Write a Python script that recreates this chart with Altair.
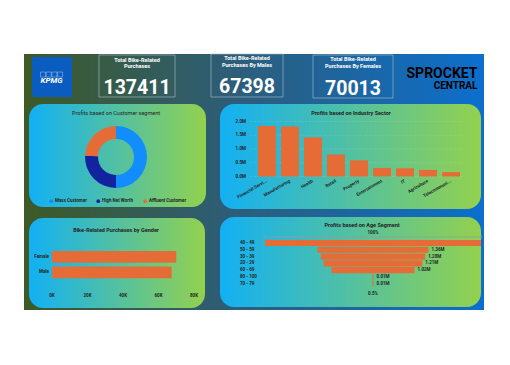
import altair as alt
import pandas as pd

# ---------------- data ----------------
kpi_title_top = ["Total Bike-Related", "Total Bike-Related", "Total Bike-Related"]
kpi_title_bottom = ["Purchases", "Purchases By Males", "Purchases By Females"]
kpi_values = ["137411", "67398", "70013"]

segments = ["Mass Customer", "High Net Worth", "Affluent Customer"]
segment_share = [50.0, 25.6, 24.4]
segment_colors = ["#118DFF", "#12239E", "#E66C37"]

industries = ["Financial Servi...", "Manufacturing", "Health", "Retail", "Property",
              "Entertainment", "IT", "Agriculture", "Telecommuni..."]
industry_profit_m = [1.84, 1.82, 1.42, 0.80, 0.59, 0.31, 0.30, 0.24, 0.16]
industry_ticks = [0, 0.5, 1.0, 1.5, 2.0]
industry_tick_labels = ["0.0M", "0.5M", "1.0M", "1.5M", "2.0M"]

genders = ["Female", "Male"]
gender_purchases = [70013, 67398]
gender_ticks = [0, 20000, 40000, 60000, 80000]
gender_tick_labels = ["0K", "20K", "40K", "60K", "80K"]

age_groups = ["40 - 49", "50 - 59", "30 - 39", "20 - 29", "60 - 69", "80 - 100", "70 - 79"]
age_profit_m = [2.65, 1.36, 1.28, 1.21, 1.02, 0.013, 0.013]
age_value_labels = ["", "1.36M", "1.28M", "1.21M", "1.02M", "0.01M", "0.01M"]
age_top_label = "100%"
age_bottom_label = "0.5%"

ORANGE = "#E66C37"
DARK = "#252423"
FONT = "Roboto"

# ---------------- layout helpers ----------------
M = 8


def px(v):
    return v - M


one = pd.DataFrame({"k": [0]})


def box(x0, x1, y0, y1, **mk):
    return alt.Chart(one).mark_rect(**mk).encode(
        x=alt.value(px(x0)), x2=alt.value(px(x1)),
        y=alt.value(px(y0)), y2=alt.value(px(y1)))


def label(txt, x, y, **mk):
    mk.setdefault("font", FONT)
    return alt.Chart(one).mark_text(**mk).encode(
        x=alt.value(px(x)), y=alt.value(px(y)), text=alt.value(txt))


def grad(stops):
    return {"gradient": "linear", "x1": 0, "x2": 1, "y1": 0, "y2": 0,
            "stops": [{"offset": o, "color": c} for o, c in stops]}


PANEL = grad([(0, "#12b0f4"), (1, "#93d14e")])

layers = []
# dashboard background
layers.append(box(24, 484, 54, 310, fill=grad([(0, "#3d5a26"), (0.45, "#2d5d78"), (1, "#0b6fce")])))
# panels
layers.append(box(29, 206, 104, 207, fill=PANEL, cornerRadius=14))
layers.append(box(220, 481, 104, 209, fill=PANEL, cornerRadius=14))
layers.append(box(29, 205, 218, 308, fill=PANEL, cornerRadius=14))
layers.append(box(220, 481, 217, 307, fill=PANEL, cornerRadius=14))

# KPMG logo
layers.append(box(32, 72, 57, 97, fill="#0b5cc0"))
for i in range(4):
    layers.append(box(40.5 + i * 5.7, 45.5 + i * 5.7, 72, 77, fillOpacity=0, stroke="#cfe0f5", strokeWidth=0.4))
layers.append(label("KPMG", 51.5, 80.5, fontSize=8, fontWeight="bold", fontStyle="italic", color="white", baseline="middle"))

# KPI cards
cards = [(99, 175, 55, 97, 137, 59.5, 66, 94.0), (211, 283, 54, 97, 247, 58, 64.5, 93.0),
         (313, 393, 55, 98, 353, 59, 66, 94.8)]
for i, (x0, x1, y0, y1, cx, t1, t2, nb) in enumerate(cards):
    layers.append(box(x0, x1, y0, y1, fillOpacity=0, stroke="#a9b9c4", strokeWidth=0.8, strokeOpacity=0.8))
    layers.append(label(kpi_title_top[i], cx, t1, fontSize=5.5, fontWeight="bold", color="white", baseline="middle"))
    layers.append(label(kpi_title_bottom[i], cx, t2, fontSize=5.5, fontWeight="bold", color="white", baseline="middle"))
    layers.append(label(kpi_values[i], cx, nb, fontSize=19.5, fontWeight="bold", color="white",
                        baseline="alphabetic"))

# Sprocket Central logo
layers.append(label("SPROCKET", 477.5, 77.5, fontSize=14, fontWeight="bold", color="black", align="right",
                    baseline="alphabetic"))
layers.append(label("CENTRAL", 477.5, 89, fontSize=10, fontWeight="bold", color="black", align="right",
                    baseline="alphabetic"))

# titles
layers.append(label("Profits based on Customer segment", 116, 113, fontSize=5.5, color=DARK, baseline="middle"))
layers.append(label("Profits based on Industry Sector", 351, 113, fontSize=5.5, fontWeight="bold", color=DARK, baseline="middle"))
layers.append(label("Bike-Related Purchases by Gender", 116, 230, fontSize=5.5, fontWeight="bold", color=DARK, baseline="middle"))
layers.append(label("Profits based on Age Segment", 362, 225, fontSize=5.5, fontWeight="bold", color=DARK, baseline="middle"))

# ---------------- donut ----------------
seg_df = pd.DataFrame({"segment": segments, "share": segment_share, "order": list(range(len(segments)))})
donut = alt.Chart(seg_df).mark_arc(outerRadius=31, innerRadius=18).encode(
    theta=alt.Theta("share:Q", stack=True),
    order=alt.Order("order:Q"),
    color=alt.Color("segment:N", sort=segments,
                    scale=alt.Scale(domain=segments, range=segment_colors),
                    legend=alt.Legend(orient="none", legendX=px(49), legendY=px(198.5), direction="horizontal",
                                      title=None, symbolType="circle", symbolSize=14, labelFontSize=4.5,
                                      labelFontWeight="bold", labelColor=DARK, labelFont=FONT,
                                      columnPadding=9, labelOffset=1.5, padding=0, symbolStrokeWidth=0)),
    x=alt.value(px(116)), y=alt.value(px(157)))
layers.append(donut)

# ---------------- industry bars ----------------
ind_df = pd.DataFrame({"industry": industries, "profit": [v * 1e6 for v in industry_profit_m]})
ind_ticks_df = pd.DataFrame({"v": [v * 1e6 for v in industry_ticks], "lab": industry_tick_labels})
ind_yscale = alt.Scale(domain=[0, 2e6], range=[px(176.5), px(121.5)], nice=False)
ind_xscale = alt.Scale(domain=industries, range=[px(258), px(460)], paddingInner=0.22, paddingOuter=0)
ind_grid = alt.Chart(ind_ticks_df).mark_rule(color="white", strokeWidth=0.5, strokeDash=[1, 1.5], opacity=0.35).encode(
    y=alt.Y("v:Q", scale=ind_yscale, axis=None), x=alt.value(px(250)), x2=alt.value(px(463)))
ind_bars = alt.Chart(ind_df).mark_bar(color=ORANGE).encode(
    x=alt.X("industry:N", sort=industries, scale=ind_xscale, axis=None),
    y=alt.Y("profit:Q", scale=ind_yscale, axis=None))
ind_ylab = alt.Chart(ind_ticks_df).mark_text(align="right", baseline="middle", fontSize=4.5, fontWeight="bold",
                                             color=DARK, font=FONT).encode(
    y=alt.Y("v:Q", scale=ind_yscale, axis=None), x=alt.value(px(246)), text="lab:N")
ind_xlab = alt.Chart(ind_df).mark_text(align="right", baseline="middle", angle=330, fontSize=4.5, fontWeight="bold",
                                       color=DARK, font=FONT).encode(
    x=alt.X("industry:N", sort=industries, scale=ind_xscale, axis=None), y=alt.value(px(181)), text="industry:N")
layers.append(alt.layer(ind_grid, ind_bars, ind_ylab, ind_xlab))

# ---------------- gender bars ----------------
g_df = pd.DataFrame({"gender": genders, "purchases": gender_purchases})
g_ticks_df = pd.DataFrame({"v": gender_ticks, "lab": gender_tick_labels})
g_xscale = alt.Scale(domain=[0, 80000], range=[px(52), px(194)], nice=False)
g_yscale = alt.Scale(domain=genders, range=[px(251), px(278.3)], paddingInner=0.25, paddingOuter=0)
g_bars = alt.Chart(g_df).mark_bar(color=ORANGE).encode(
    x=alt.X("purchases:Q", scale=g_xscale, axis=None),
    y=alt.Y("gender:N", sort=genders, scale=g_yscale, axis=None))
g_ylab = alt.Chart(g_df).mark_text(align="right", baseline="middle", fontSize=4.5, fontWeight="bold",
                                   color=DARK, font=FONT).encode(
    y=alt.Y("gender:N", sort=genders, scale=g_yscale, axis=None), x=alt.value(px(49)), text="gender:N")
g_xlab = alt.Chart(g_ticks_df).mark_text(align="center", baseline="middle", fontSize=4.5, fontWeight="bold",
                                         color=DARK, font=FONT).encode(
    x=alt.X("v:Q", scale=g_xscale, axis=None), y=alt.value(px(296)), text="lab:N")
layers.append(alt.layer(g_bars, g_ylab, g_xlab))

# ---------------- age funnel ----------------
a_df = pd.DataFrame({"age": age_groups, "profit": [v * 1e6 for v in age_profit_m], "lab": age_value_labels})
amax = max(age_profit_m) * 1e6
a_top = pd.DataFrame({"profit": [amax]})
a_mid = pd.DataFrame({"c": [0.0]})
a_xscale = alt.Scale(domain=[-amax / 2, amax / 2], range=[px(265), px(481)], nice=False, zero=False)
a_yscale = alt.Scale(domain=age_groups, range=[px(240), px(286.7)], paddingInner=0.1, paddingOuter=0)
a_bars = alt.Chart(a_df).transform_calculate(lo="-datum.profit/2", hi="datum.profit/2").mark_bar(color=ORANGE).encode(
    x=alt.X("lo:Q", scale=a_xscale, axis=None), x2="hi:Q",
    y=alt.Y("age:N", sort=age_groups, scale=a_yscale, axis=None))
a_vlab = alt.Chart(a_df).transform_calculate(hi="datum.profit/2").mark_text(
    align="left", baseline="middle", dx=3, fontSize=4.5, fontWeight="bold", color=DARK, font=FONT).encode(
    x=alt.X("hi:Q", scale=a_xscale, axis=None),
    y=alt.Y("age:N", sort=age_groups, scale=a_yscale, axis=None), text="lab:N")
a_clab = alt.Chart(a_df).mark_text(align="left", baseline="middle", fontSize=4.5, fontWeight="bold",
                                   color=DARK, font=FONT).encode(
    y=alt.Y("age:N", sort=age_groups, scale=a_yscale, axis=None), x=alt.value(px(240)), text="age:N")
a_rule = alt.Chart(a_top).transform_calculate(lo="-datum.profit/2", hi="datum.profit/2").mark_rule(
    color="#9a9a9a", strokeWidth=0.8).encode(
    x=alt.X("lo:Q", scale=a_xscale, axis=None), x2="hi:Q", y=alt.value(px(237)))
a_ends = alt.Chart(a_top).transform_calculate(lo="-datum.profit/2", hi="datum.profit/2").transform_fold(
    ["lo", "hi"]).mark_rule(color="#9a9a9a", strokeWidth=0.8).encode(
    x=alt.X("value:Q", scale=a_xscale, axis=None), y=alt.value(px(235)), y2=alt.value(px(239)))
a_top_txt = alt.Chart(a_mid).mark_text(baseline="middle", fontSize=4.5, fontWeight="bold", color=DARK,
                                       font=FONT).encode(
    x=alt.X("c:Q", scale=a_xscale, axis=None), y=alt.value(px(232.5)), text=alt.value(age_top_label))
a_bot_txt = alt.Chart(a_mid).mark_text(baseline="middle", fontSize=4.5, fontWeight="bold", color=DARK,
                                       font=FONT).encode(
    x=alt.X("c:Q", scale=a_xscale, axis=None), y=alt.value(px(294)), text=alt.value(age_bottom_label))
layers.append(alt.layer(a_rule, a_ends, a_bars, a_vlab, a_clab, a_top_txt, a_bot_txt))

chart = alt.layer(*layers).resolve_scale(
    x="independent", y="independent", color="independent", theta="independent"
).properties(
    width=494, height=349, autosize=alt.AutoSizeParams(type="none"), padding=0, background="white"
).configure_view(stroke=None)

chart.save("out.html", embed_options={"renderer": "svg", "actions": False})
